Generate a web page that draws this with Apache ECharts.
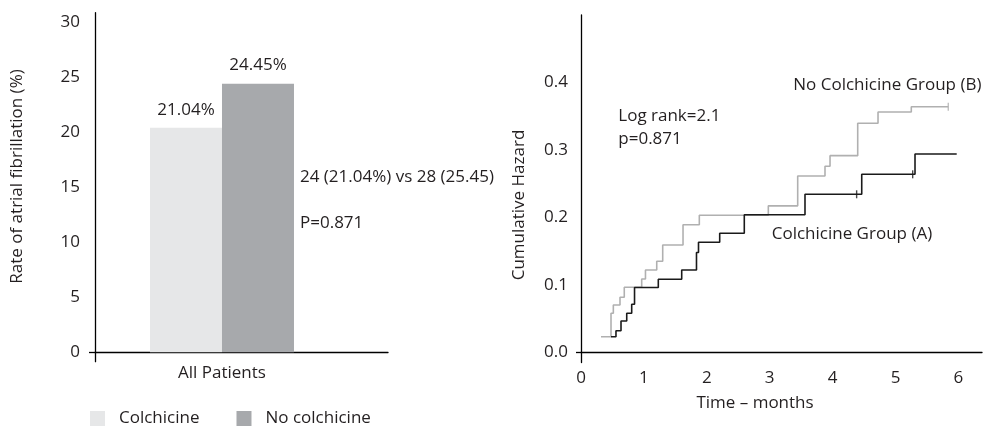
<!DOCTYPE html>
<html><head><meta charset="utf-8">
<script src="https://cdn.jsdelivr.net/npm/echarts@6/dist/echarts.min.js"></script>
<style>html,body{margin:0;padding:0;background:#fff}#c{width:986px;height:427px}</style>
</head><body><div id="c"></div>
<script>
// ---------- data: left bar chart ----------
const barCategories = ['All Patients'];
const barSeriesNames = ['Colchicine', 'No colchicine'];
const barValues = [20.4, 24.4];
const barLabels = ['21.04%', '24.45%'];
const barYTicks = [0, 5, 10, 15, 20, 25, 30];
const barNotes = ['24 (21.04%) vs 28 (25.45)', 'P=0.871'];

// ---------- data: right cumulative hazard chart ----------
const hazardXTicks = [0, 1, 2, 3, 4, 5, 6];
const hazardYTicks = [0, 0.1, 0.2, 0.3, 0.4];
const colchicineTime   = [0.477, 0.556, 0.636, 0.727, 0.806, 0.851, 1.229, 1.601, 1.836, 1.868, 2.205, 2.596, 3.561, 4.463, 5.310, 5.973];
const colchicineHazard = [0.0234, 0.0323, 0.0467, 0.0581, 0.0714, 0.0963, 0.1086, 0.1222, 0.1481, 0.1633, 0.1766, 0.2041, 0.2344, 0.2640, 0.2941, 0.2941];
const noColchicineTime   = [0.318, 0.477, 0.514, 0.620, 0.688, 0.965, 1.025, 1.204, 1.299, 1.622, 1.881, 2.978, 3.445, 3.879, 3.959, 4.399, 4.722, 5.251, 5.839];
const noColchicineHazard = [0.0234, 0.0581, 0.0704, 0.0818, 0.0966, 0.1089, 0.1222, 0.1351, 0.1593, 0.1893, 0.2034, 0.2173, 0.2615, 0.2759, 0.2916, 0.3396, 0.3563, 0.3641, 0.3641];
const colchicineCensorTime = [4.382, 5.273];
const colchicineCensorHazard = [0.2344, 0.2640];
const noColchicineCensorTime = [5.839];
const noColchicineCensorHazard = [0.3641];
const hazardNotes = ['Log rank=2.1', 'p=0.871'];
const groupNames = ['No Colchicine Group (B)', 'Colchicine Group (A)'];
const axisNames = ['Rate of atrial fibrillation (%)', 'Cumulative Hazard', 'Time \u2013 months'];

// ---------- build ----------
const FONT = 'Open Sans';
const FS = 17;
const TXT = '#231f20';
const zip = (a, b) => a.map((v, i) => [v, b[i]]);
const catPos = 0.4334;

const chart = echarts.init(document.getElementById('c'));
const txt = (text, x, y, extra) => ({
  type: 'text', x: x, y: y,
  style: Object.assign({ text: text, fontFamily: FONT, fontSize: FS, fill: TXT, align: 'left', verticalAlign: 'middle' }, extra || {})
});
const axisLine = { show: true, onZero: true, lineStyle: { color: '#000', width: 1.3 } };
const lbl = (extra) => Object.assign({ fontSize: FS, color: TXT, fontFamily: FONT }, extra);

const option = {
  animation: false,
  textStyle: { fontFamily: FONT },
  grid: [
    { left: 95, top: 12.7, width: 293, height: 349 },
    { left: 581, top: 15, width: 401, height: 347.5 }
  ],
  xAxis: [
    {
      gridIndex: 0, type: 'value', min: 0, max: 1,
      splitLine: { show: false }, axisLine: axisLine, axisTick: { show: false },
      axisLabel: lbl({ customValues: [catPos], formatter: () => barCategories[0], margin: 3 })
    },
    {
      gridIndex: 1, type: 'value', min: 0, max: 6.375,
      splitLine: { show: false }, axisLine: axisLine, axisTick: { show: false },
      axisLabel: lbl({ customValues: hazardXTicks, formatter: v => String(v), margin: 7 })
    }
  ],
  yAxis: [
    {
      gridIndex: 0, type: 'value', min: -0.85, max: 30.85,
      splitLine: { show: false }, axisLine: axisLine,
      axisTick: { show: true, customValues: [0], length: 6, lineStyle: { color: '#000', width: 1.3 } },
      axisLabel: lbl({ customValues: barYTicks, formatter: v => String(v), margin: 15 })
    },
    {
      gridIndex: 1, type: 'value', min: -0.0148, max: 0.5,
      splitLine: { show: false }, axisLine: axisLine,
      axisTick: { show: true, customValues: [0], length: 5, lineStyle: { color: '#000', width: 1.3 } },
      axisLabel: lbl({ customValues: hazardYTicks, formatter: v => v.toFixed(1), margin: 13 })
    }
  ],
  legend: {
    left: 85, top: 405, itemWidth: 15, itemHeight: 15, itemGap: 37, icon: 'rect',
    data: barSeriesNames,
    textStyle: { fontSize: FS, color: TXT, fontFamily: FONT, padding: [0, 0, 0, 9] }
  },
  series: [
    {
      name: barSeriesNames[0], type: 'bar', xAxisIndex: 0, yAxisIndex: 0,
      barWidth: 72, barGap: '0%',
      itemStyle: { color: '#e6e7e8' },
      label: lbl({ show: true, position: 'top', distance: 9, formatter: () => barLabels[0] }),
      data: [[catPos, barValues[0]]]
    },
    {
      name: barSeriesNames[1], type: 'bar', xAxisIndex: 0, yAxisIndex: 0,
      barWidth: 72, barGap: '0%',
      itemStyle: { color: '#a7a9ac' },
      label: lbl({ show: true, position: 'top', distance: 10, formatter: () => barLabels[1] }),
      data: [[catPos, barValues[1]]]
    },
    {
      name: 'noColchicine', type: 'line', xAxisIndex: 1, yAxisIndex: 1, step: 'end',
      showSymbol: false, lineStyle: { color: '#b0b0b0', width: 1.6 },
      data: zip(noColchicineTime, noColchicineHazard)
    },
    {
      name: 'colchicine', type: 'line', xAxisIndex: 1, yAxisIndex: 1, step: 'end',
      showSymbol: false, lineStyle: { color: '#1a1a1a', width: 1.6 },
      data: zip(colchicineTime, colchicineHazard)
    },
    {
      name: 'noColchicineCensor', type: 'scatter', xAxisIndex: 1, yAxisIndex: 1,
      symbol: 'rect', symbolSize: [1.4, 8], itemStyle: { color: '#b0b0b0' },
      data: zip(noColchicineCensorTime, noColchicineCensorHazard)
    },
    {
      name: 'colchicineCensor', type: 'scatter', xAxisIndex: 1, yAxisIndex: 1,
      symbol: 'rect', symbolSize: [1.4, 8], itemStyle: { color: '#1a1a1a' },
      data: zip(colchicineCensorTime, colchicineCensorHazard)
    }
  ],
  graphic: [
    txt(barNotes[0], 300, 176.7),
    txt(barNotes[1], 300, 223.3),
    txt(hazardNotes[0], 618.3, 116),
    txt(hazardNotes[1], 618.3, 139.3),
    txt(groupNames[0], 793.3, 85),
    txt(groupNames[1], 771.7, 234.3),
    Object.assign(txt(axisNames[0], 17, 176.5, { align: 'center' }), { rotation: Math.PI / 2 }),
    Object.assign(txt(axisNames[1], 519, 205, { align: 'center' }), { rotation: Math.PI / 2 }),
    txt(axisNames[2], 755, 403.3, { align: 'center' })
  ]
};
chart.setOption(option);
</script>
</body></html>
